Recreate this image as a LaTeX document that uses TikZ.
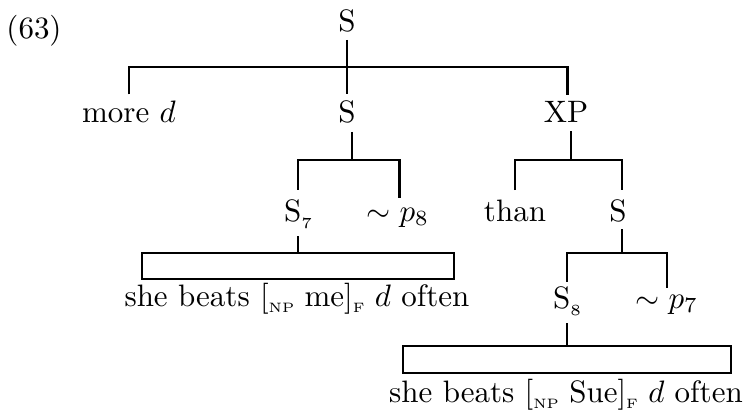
\documentclass[tikz,border=0pt]{standalone}
\newcommand\lsub[1]{\raisebox{-2.4pt}{\fontsize{5}{6}\selectfont #1}}
\newcommand\npsub{\raisebox{-2.2pt}{\fontsize{4.4}{5}\selectfont NP}}
\newcommand\fsub{\raisebox{-2.2pt}{\fontsize{4.4}{5}\selectfont F}}
\begin{document}
\begin{tikzpicture}[x=0.3226pt,y=-0.3226pt,
  lab/.style={inner sep=0pt,outer sep=0pt,anchor=base},
  edge/.style={line width=0.93pt},
  roof/.style={draw,line width=0.93pt,inner sep=0pt,outer sep=0pt}]
\useasboundingbox (0,0) rectangle (744,412);
% labels
\node[lab] (n63) at (34,38) {(63)};
\node[lab] (sTop) at (347,31) {S};
\node[lab] (more) at (129,122) {more $d$};
\node[lab] (sMid) at (347,122) {S};
\node[lab] (xp) at (566,122) {XP};
\node[lab] (s7) at (298,221) {S\lsub{7}};
\node[lab] (p8) at (398,221) {$\sim p_8$};
\node[lab] (than) at (515,221) {than};
\node[lab] (sR) at (618,221) {S};
\node[lab] (s8) at (567,308) {S\lsub{8}};
\node[lab] (p7) at (667,308) {$\sim p_7$};
\node[lab] (t1) at (297,306) {she beats [\npsub\ me]\fsub\ $d$ often};
\node[lab] (t2) at (566,402) {she beats [\npsub\ Sue]\fsub\ $d$ often};
% roofs
\node[roof,minimum width=312*0.3226pt,minimum height=26*0.3226pt] (r1) at (298,266) {};
\node[roof,minimum width=328*0.3226pt,minimum height=27*0.3226pt] (r2) at (567,359.5) {};
% bar coordinates
\coordinate (b1) at (347,67);
\coordinate (b2) at (352,160);
\coordinate (b3) at (571,160);
\coordinate (b4) at (622,253);
% connectors
\draw[edge] ([yshift=-2.6pt]sTop.south) -- ([yshift=2pt]sMid.north);
\draw[edge] ([yshift=2pt]more.north) |- (b1) -| ([yshift=2pt,xshift=0.4pt]xp.north);
\draw[edge] ([yshift=-3pt]b2 |- sMid.south) -- (b2);
\draw[edge] ([yshift=3pt]s7.north) |- (b2) -| ([yshift=3pt,xshift=0.4pt]p8.north);
\draw[edge] ([yshift=-3pt]b3 |- xp.south) -- (b3);
\draw[edge] ([yshift=3pt]than.north) |- (b3) -| ([yshift=3pt,xshift=1.3pt]sR.north);
\draw[edge] ([yshift=-2.4pt]b4 |- sR.south) -- (b4);
\draw[edge] ([yshift=1.5pt]s8.north) |- (b4) -| ([yshift=2pt]p7.north);
\draw[edge] ([yshift=-2.4pt]s7.south) -- (r1.north -| s7.south);
\draw[edge] ([yshift=-2.4pt]s8.south) -- (r2.north -| s8.south);
\end{tikzpicture}
\end{document}
